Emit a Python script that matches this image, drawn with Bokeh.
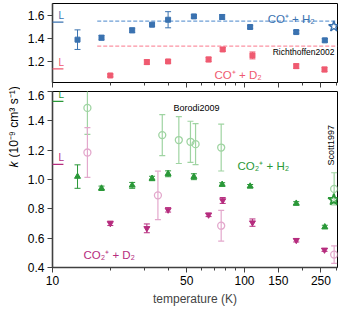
import numpy as np
from bokeh.plotting import figure
from bokeh.layouts import column, row
from bokeh.models import (ColumnDataSource, Whisker, TeeHead, FixedTicker,
                          PrintfTickFormatter, Label, Arrow, Range1d, AllLabels)
from bokeh.core.properties import value
from bokeh.embed import file_html
from bokeh.resources import INLINE

FONT = "Liberation Sans"

# ---------------- data ----------------
T_H = [13.5, 18, 26, 33, 40, 54.5, 76.5, 107, 186, 262]
T_D = [20, 31, 40, 65, 77, 110, 186, 261]

coH2_k = [1.389, 1.406, 1.47, 1.519, 1.562, 1.591, 1.586, 1.499, 1.455, 1.383]
coH2_e = [0.085, 0.02, 0.02, 0.015, 0.07, 0.015, 0.02, 0.015, 0.015, 0.015]
coD2_k = [1.078, 1.194, 1.2, 1.217, 1.304, 1.252, 1.159, 1.13]
coD2_e = [0.012, 0.02, 0.015, 0.02, 0.015, 0.03, 0.02, 0.02]

co2H2_k = [1.02, 0.94, 0.96, 1.007, 1.039, 1.019, 0.966, 0.954, 0.837, 0.676]
co2H2_e = [0.08, 0.015, 0.02, 0.015, 0.02, 0.02, 0.012, 0.012, 0.012, 0.012]
co2D2_k = [0.701, 0.667, 0.793, 0.759, 0.857, 0.706, 0.586, 0.52]
co2D2_e = [0.015, 0.03, 0.015, 0.012, 0.02, 0.025, 0.012, 0.01]

bor_H2_T = [15.2, 37.3, 45.5, 52.3, 55.6, 75.6]
bor_H2_k = [1.488, 1.303, 1.269, 1.257, 1.241, 1.218]
bor_H2_e = [0.18, 0.14, 0.16, 0.14, 0.14, 0.16]
bor_D2_T = [15.2, 35.4, 75.6]
bor_D2_k = [1.184, 0.892, 0.685]
bor_D2_e = [0.17, 0.165, 0.105]

scott_T = [293]
scott_H2_k = [0.936]
scott_H2_e = [0.11]
scott_D2_k = [0.488]
scott_D2_e = [0.06]

star_T = [292]
richt_star_k = [1.504]
co2_star_k = [0.862]

# Langevin values and reference dashed lines
lang_co_H2 = 1.542
lang_co_D2 = 1.136
lang_co2_H2 = 1.533
lang_co2_D2 = 1.103
dash_T = [17.1, 305]
dash_H2 = 1.55
dash_D2 = 1.333

x_ticks = [10, 50, 100, 150, 250]
x_minor = [20, 30, 40, 60, 70, 80, 90, 200, 300]
y_ticks_top = [1.2, 1.4, 1.6]
y_ticks_bot = [0.4, 0.6, 0.8, 1.0, 1.2, 1.4, 1.6]

ylabel_k = "k"
ylabel_units = "(10⁻⁹ cm³ s⁻¹)"

# colours
BLUE = "#3a72b0"
BLUE_L = "#6e9fd6"
RED = "#ef5a70"
RED_L = "#fb93a3"
GREEN = "#2a9838"
GREEN_L = "#9fd4a2"
MAG = "#b62c7e"
PINK_L = "#e3a8cc"

XR = (10, 305)
LEFT = 32


def style(p):
    p.grid.visible = False
    p.outline_line_color = "black"
    p.outline_line_width = 1
    for ax in p.axis:
        ax.axis_line_color = "#404040"
        ax.axis_line_width = 1.6
        ax.major_tick_line_color = "#404040"
        ax.minor_tick_line_color = "#404040"
        ax.major_tick_in = 0
        ax.minor_tick_in = 0
        ax.major_label_text_font = FONT
        ax.major_label_text_font_size = "12px"
        ax.major_label_text_color = "black"
        ax.major_label_standoff = 3
        ax.major_label_policy = AllLabels()
    p.xaxis.ticker = FixedTicker(ticks=x_ticks, minor_ticks=x_minor)
    p.xaxis.major_tick_out = 5
    p.xaxis.minor_tick_out = 3
    p.xaxis.formatter = PrintfTickFormatter(format="%d")
    p.yaxis.major_tick_out = 5
    p.yaxis.minor_tick_out = 0
    p.yaxis.formatter = PrintfTickFormatter(format="%.1f")


def errbars(p, xs, ks, es, color, width=1):
    src = ColumnDataSource(dict(x=xs, up=[k + e for k, e in zip(ks, es)],
                                lo=[k - e for k, e in zip(ks, es)]))
    w = Whisker(source=src, base="x", upper="up", lower="lo", dimension="height",
                line_color=color, line_width=width,
                upper_head=TeeHead(size=6, line_color=color, line_width=width),
                lower_head=TeeHead(size=6, line_color=color, line_width=width))
    p.add_layout(w)


def langevin(p, yv, color):
    a = Arrow(end=None, x_start=8.97, y_start=yv, x_end=11.4, y_end=yv,
              line_color=color, line_width=1.3)
    p.add_layout(a)
    p.add_layout(Label(x=10.75, y=yv, text="L", text_color=color, text_font=FONT,
                       text_font_size="10px", text_baseline="bottom", y_offset=1))


def lbl(p, x, y, text, color, size="11.5px", align="left", baseline="alphabetic", angle=0.0,
        style_="normal"):
    p.add_layout(Label(x=x, y=y, text=text, text_color=color, text_font=FONT,
                       text_font_size=size, text_align=align, text_baseline=baseline,
                       angle=angle, text_font_style=style_))


# ---------------- top panel ----------------
p1 = figure(frame_width=285, frame_height=79, x_axis_type="log",
            x_range=Range1d(*XR), y_range=Range1d(1.017, 1.703),
            output_backend="svg", toolbar_location=None,
            min_border_left=LEFT, min_border_right=2, min_border_top=3, min_border_bottom=8)
style(p1)
p1.yaxis.ticker = FixedTicker(ticks=y_ticks_top)
p1.xaxis.major_label_text_font_size = "0px"
p1.xaxis.major_label_overrides = {t: "" for t in x_ticks}
p1.xaxis.major_label_standoff = 0
p1.xaxis.axis_line_color = "black"
p1.xaxis.axis_line_width = 1

p1.line(dash_T, [dash_H2, dash_H2], line_color=BLUE_L, line_dash="4 2", line_width=1.2)
p1.line(dash_T, [dash_D2, dash_D2], line_color=RED_L, line_dash="4 2", line_width=1.2)

errbars(p1, T_H, coH2_k, coH2_e, BLUE)
errbars(p1, T_D, coD2_k, coD2_e, RED)
p1.scatter(T_H, coH2_k, marker="square", size=5, color=BLUE)
p1.scatter(T_D, coD2_k, marker="square", size=5, color=RED)
p1.scatter(star_T, richt_star_k, marker="star", size=11, fill_color=None,
           line_color=BLUE, line_width=1.5)

langevin(p1, lang_co_H2, BLUE)
langevin(p1, lang_co_D2, RED)

lbl(p1, 132, 1.571, "CO⁺ + H₂", BLUE)
lbl(p1, 69.8, 1.078, "CO⁺ + D₂", RED)
lbl(p1, 294, 1.278, "Richthoffen2002", "black", size="8.5px", align="right", baseline="middle")

# ---------------- bottom panel ----------------
p2 = figure(frame_width=285, frame_height=176, x_axis_type="log",
            x_range=Range1d(*XR), y_range=Range1d(0.4, 1.6),
            output_backend="svg", toolbar_location=None,
            min_border_left=LEFT, min_border_right=2, min_border_top=1)
style(p2)
p2.yaxis.ticker = FixedTicker(ticks=y_ticks_bot)
p2.xaxis.axis_label = "temperature (K)"
p2.xaxis.axis_label_text_font = FONT
p2.xaxis.axis_label_text_font_size = "12px"
p2.xaxis.axis_label_text_font_style = "normal"
p2.xaxis.axis_label_standoff = 4

errbars(p2, bor_H2_T, bor_H2_k, bor_H2_e, GREEN_L, width=1.2)
errbars(p2, bor_D2_T, bor_D2_k, bor_D2_e, PINK_L, width=1.2)
errbars(p2, scott_T, scott_H2_k, scott_H2_e, GREEN_L, width=1.2)
errbars(p2, scott_T, scott_D2_k, scott_D2_e, PINK_L, width=1.2)
p2.scatter(bor_H2_T + scott_T, bor_H2_k + scott_H2_k, marker="circle", size=7,
           fill_color=None, line_color=GREEN_L, line_width=1.3)
p2.scatter(bor_D2_T + scott_T, bor_D2_k + scott_D2_k, marker="circle", size=7,
           fill_color=None, line_color=PINK_L, line_width=1.3)

errbars(p2, T_H, co2H2_k, co2H2_e, GREEN)
errbars(p2, T_D, co2D2_k, co2D2_e, MAG)
p2.scatter(T_H, co2H2_k, marker="triangle", size=6, color=GREEN)
p2.scatter(T_D, co2D2_k, marker="inverted_triangle", size=6, color=MAG)
p2.scatter(star_T, co2_star_k, marker="star", size=12, fill_color=None,
           line_color=GREEN, line_width=1.8)

langevin(p2, lang_co2_H2, GREEN)
langevin(p2, lang_co2_D2, MAG)

lbl(p2, 92, 1.092, "CO₂⁺ + H₂", GREEN)
lbl(p2, 14.5, 0.488, "CO₂⁺ + D₂", MAG)
lbl(p2, 42.7, 1.49, "Borodi2009", "black", size="9px", baseline="middle")
lbl(p2, 281, 1.234, "Scott1997", "black", size="9px", align="center", baseline="middle",
    angle=np.pi / 2)

# ---------------- y-axis label strip (pixel coordinates) ----------------
pl = figure(width=20, height=308, x_range=Range1d(0, 20), y_range=Range1d(308, 0),
            output_backend="svg", toolbar_location=None,
            x_axis_location=None, y_axis_location=None,
            min_border_left=0, min_border_right=0, min_border_top=0, min_border_bottom=0)
pl.outline_line_color = None
pl.grid.visible = False
pl.text(x=[13], y=[164], text=[ylabel_k], angle=np.pi / 2, text_align="center",
        text_baseline="middle", text_font=value(FONT), text_font_size="12px",
        text_font_style="italic", text_color="black")
pl.text(x=[13], y=[157], text=[ylabel_units], angle=np.pi / 2, text_align="left",
        text_baseline="middle", text_font=value(FONT), text_font_size="12px",
        text_color="black")

layout = row(pl, column(p1, p2))
open("out.html", "w").write(file_html(layout, INLINE))
